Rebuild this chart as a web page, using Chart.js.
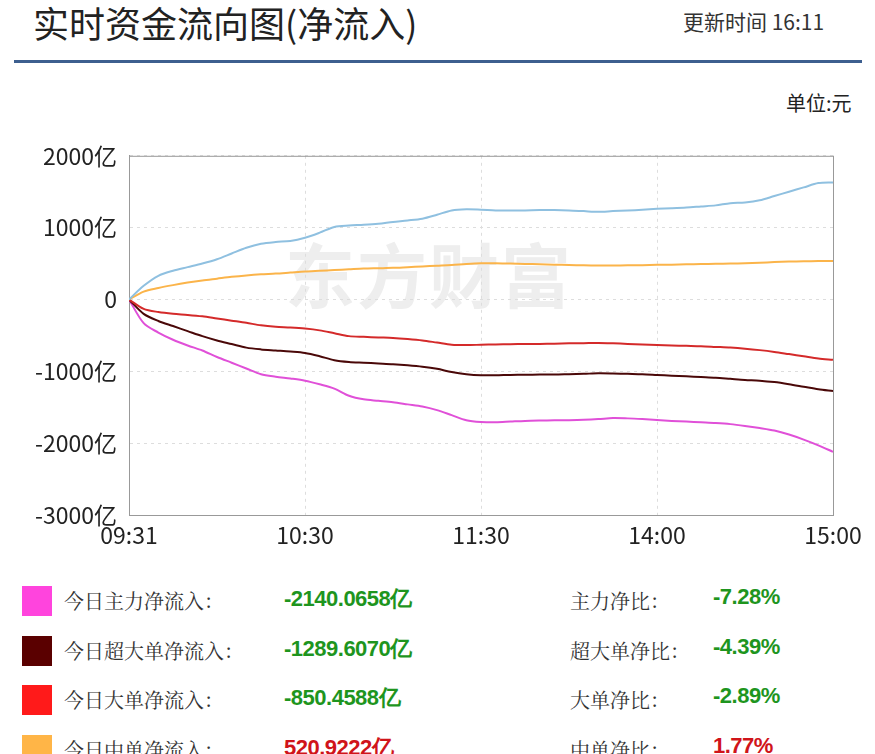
<!DOCTYPE html>
<html><head><meta charset="utf-8">
<script src="https://cdn.jsdelivr.net/npm/chart.js@4"></script>
<style>
body{margin:0;width:875px;height:754px;overflow:hidden;background:#fff;font-family:"Noto Sans CJK SC",sans-serif;color:#333;position:relative}
.abs{position:absolute;white-space:nowrap}
#title{left:33px;top:-4px;font-size:36px;color:#222}
#upd{left:683px;top:6px;font-size:21px;color:#333}
#rule{left:14px;top:60px;width:848px;height:3px;background:#3d5f8f}
#unit{left:786px;top:88px;font-size:20px;color:#222}
#wm{left:285px;top:222px;font-size:70px;font-weight:bold;color:#eeeeee;letter-spacing:2px}
#box{left:0;top:130px;width:875px;height:430px}
.row{position:absolute;left:0;height:40px;width:875px}
.sq{position:absolute;left:22px;top:4px;width:30px;height:30px}
.lb{position:absolute;top:4px;font-size:20px;color:#333;font-family:"Noto Serif CJK SC","Noto Sans CJK SC",serif}
.v{position:absolute;top:2px;font-size:22px;font-weight:bold;font-family:"Liberation Sans",Arial,sans-serif;letter-spacing:-0.5px}
.g{color:#1e951e}.r{color:#d0141a}
</style></head><body>
<div id="title" class="abs">实时资金流向图(净流入)</div>
<div id="upd" class="abs">更新时间 16:11</div>
<div id="rule" class="abs"></div>
<div id="unit" class="abs">单位:元</div>
<div id="wm" class="abs">东方财富</div>
<div id="box" class="abs"><canvas id="c" width="875" height="430"></canvas></div>
<div id="legend"></div>
<script>
const timeTicks = ['09:31', '10:30', '11:30', '14:00', '15:00'];
const yTicks = [2000, 1000, 0, -1000, -2000, -3000];
const small = [0,190,330,400,450,500,560,640,720,775,800,815,860,930,1010,1030,1040,1055,1080,1100,1125,1180,1240,1256,1250,1240,1238,1240,1245,1245,1240,1230,1220,1230,1238,1250,1262,1270,1280,1295,1310,1340,1350,1380,1440,1500,1560,1620,1630];
const medium = [0,110,160,200,235,265,290,315,335,350,360,375,390,400,410,420,430,435,440,450,460,470,480,495,505,505,500,495,490,485,480,475,472,473,475,478,482,485,490,493,497,500,505,512,520,527,532,535,536];
const large = [0,-130,-175,-200,-215,-235,-265,-295,-325,-360,-380,-390,-405,-430,-470,-510,-520,-528,-535,-550,-570,-600,-630,-635,-630,-625,-622,-620,-618,-615,-610,-608,-605,-610,-618,-625,-632,-640,-645,-650,-660,-670,-685,-705,-730,-760,-790,-820,-840];
const superLarge = [0,-200,-300,-370,-440,-510,-570,-620,-670,-695,-710,-725,-745,-790,-845,-870,-880,-890,-900,-915,-935,-965,-1010,-1040,-1055,-1055,-1050,-1048,-1045,-1045,-1040,-1035,-1028,-1030,-1035,-1040,-1050,-1060,-1070,-1080,-1090,-1105,-1120,-1130,-1150,-1180,-1215,-1250,-1275];
const mainForce = [0,-330,-460,-560,-640,-710,-800,-880,-960,-1040,-1075,-1100,-1130,-1180,-1240,-1340,-1390,-1410,-1430,-1460,-1490,-1540,-1610,-1680,-1705,-1710,-1700,-1690,-1685,-1682,-1680,-1675,-1665,-1650,-1655,-1665,-1678,-1690,-1700,-1710,-1720,-1735,-1760,-1790,-1825,-1880,-1950,-2030,-2120];

const legendLabels = ['今日主力净流入：', '今日超大单净流入：', '今日大单净流入：', '今日中单净流入：'];
const legendValues = ['-2140.0658亿', '-1289.6070亿', '-850.4588亿', '520.9222亿'];
const ratioLabels = ['主力净比：', '超大单净比：', '大单净比：', '中单净比：'];
const ratioValues = ['-7.28%', '-4.39%', '-2.89%', '1.77%'];
const legendColors = ['#ff44dd', '#5a0000', '#ff1a1a', '#ffb547'];

// legend rows
const lg = document.getElementById('legend');
legendLabels.forEach((t, i) => {
  const cls = legendValues[i].startsWith('-') ? 'g' : 'r';
  const row = document.createElement('div');
  row.className = 'row';
  row.style.top = (582 + i * 49.5) + 'px';
  row.innerHTML = `<div class="sq" style="background:${legendColors[i]}"></div>
    <div class="lb" style="left:64px">${t}</div>
    <div class="v ${cls}" style="left:284px">${legendValues[i]}</div>
    <div class="lb" style="left:570px">${ratioLabels[i]}</div>
    <div class="v ${cls}" style="left:713px">${ratioValues[i]}</div>`;
  lg.appendChild(row);
});

const pts = arr => arr.map((v, i) => ({ x: i, y: v }));
const mk = (data, color) => ({ data: pts(data), borderColor: color, borderWidth: 2, pointRadius: 0, tension: 0.3, fill: false });

new Chart(document.getElementById('c'), {
  type: 'line',
  data: {
    datasets: [
      mk(small, '#8fc0e0'),
      mk(medium, '#fbb44a'),
      mk(large, '#d42a2a'),
      mk(superLarge, '#4a0808'),
      mk(mainForce, '#e050d8')
    ]
  },
  options: {
    responsive: false,
    animation: false,
    layout: { padding: { top: 7, right: 42, bottom: 0, left: 0 } },
    plugins: { legend: { display: false }, tooltip: { enabled: false } },
    scales: {
      x: {
        type: 'linear', min: 0, max: 48,
        afterFit: s => { s.height = 45; },
        ticks: { stepSize: 12, color: '#222', font: { size: 23, family: 'Noto Sans CJK SC' }, padding: 6,
          callback: v => timeTicks[v / 12] },
        grid: { color: '#dddddd', drawTicks: false },
        border: { color: '#999', width: 1, dash: [3, 4] }
      },
      y: {
        min: -3000, max: 2000,
        afterFit: s => { s.width = 129; },
        afterBuildTicks: s => { s.ticks = yTicks.map(v => ({ value: v })); },
        ticks: { color: '#222', font: { size: 23, family: 'Noto Sans CJK SC' }, padding: 12,
          callback: v => v === 0 ? '0' : v + '亿' },
        grid: { color: '#dddddd', drawTicks: false },
        border: { color: '#999', width: 1, dash: [3, 4] }
      }
    }
  },
  plugins: [{
    id: 'frame',
    beforeDatasetsDraw(chart) {
      const { ctx, chartArea: a } = chart;
      ctx.save();
      ctx.strokeStyle = '#999'; ctx.lineWidth = 1;
      ctx.strokeRect(a.left + 0.5, a.top + 0.5, a.width, a.height);
      ctx.restore();
    }
  }]
});
</script>
</body></html>
